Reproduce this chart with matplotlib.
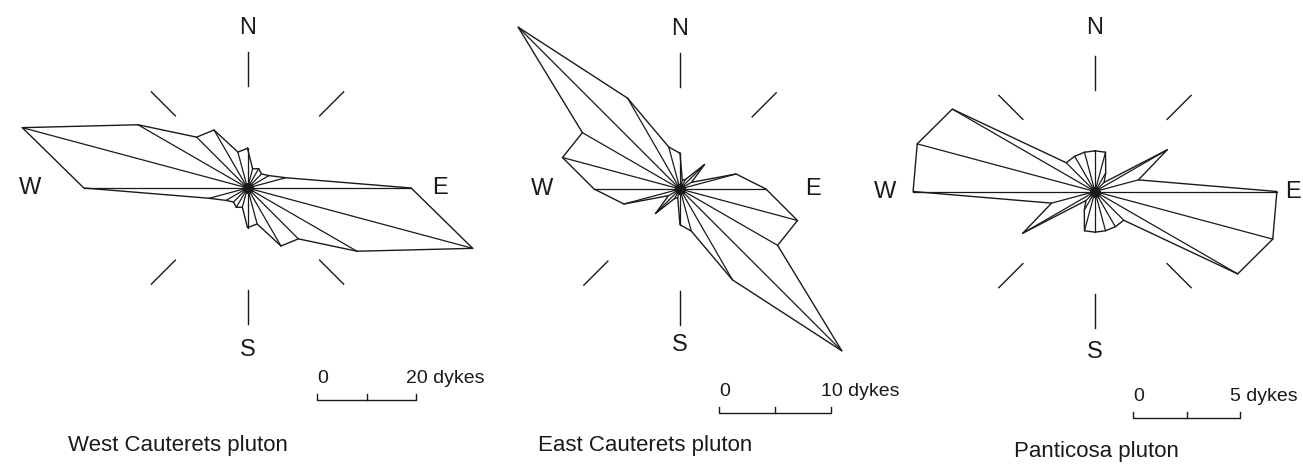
# dyke orientation rose diagrams, three plutons
import numpy as np
import matplotlib.pyplot as plt

plt.rcParams['font.family'] = ['Liberation Sans', 'DejaVu Sans']

# bin centres (degrees clockwise from N), strikes are axial so each bin is mirrored
directions = np.arange(0, 180, 15)

# number of dykes per bin
west_counts = [8, 4, 4.5, 4, 5, 8, 33, 47, 25.5, 14.5, 13.5, 7.5]
east_counts = [3.2, 0.8, 1.0, 3.1, 1.2, 5.2, 7.7, 10.9, 10.1, 20.5, 9.4, 3.9]
pant_counts = [1.9, 1.9, 1.0, 0.6, 3.9, 2.1, 8.5, 8.6, 7.7, 1.9, 1.9, 1.9]

titles = ['West Cauterets pluton', 'East Cauterets pluton', 'Panticosa pluton']
bar_dykes = [20, 10, 5]
bar_labels = ['20 dykes', '10 dykes', '5 dykes']

# layout in pixels: centre, pixels per dyke, label distances, scale bar, title
W, H = 1303, 470
layout = [
    dict(cx=247.5, cy=188, k=4.96, n=160, s=162, w=217, e=192,
         diag=[45, 135, 225, 315], bx=317, by=400, tx=178, ty=446),
    dict(cx=680, cy=189, k=11.16, n=160, s=156, w=138, e=133,
         diag=[45, 225], bx=719, by=413, tx=645, ty=446),
    dict(cx=1095, cy=191.5, k=21.4, n=163, s=160, w=210, e=198,
         diag=[45, 135, 225, 315], bx=1133, by=418, tx=1096, ty=451),
]
all_counts = [west_counts, east_counts, pant_counts]

fig = plt.figure(figsize=(W / 100, H / 100), dpi=100)
lc = '#1a1a1a'

for counts, lay, title, bd, bl in zip(all_counts, layout, titles, bar_dykes, bar_labels):
    k = lay['k']
    cx, cy = lay['cx'], lay['cy']
    hw = 250
    ax = fig.add_axes([(cx - hw) / W, 0, 2 * hw / W, 1])
    ax.set_xlim(-hw / k, hw / k)
    ax.set_ylim(-(H - cy) / k, cy / k)
    ax.axis('off')
    ax.patch.set_alpha(0)

    az = np.deg2rad(np.concatenate([directions, directions + 180]))
    r = np.concatenate([counts, counts])
    x = r * np.sin(az)
    y = r * np.cos(az)
    # outline
    ax.plot(np.append(x, x[0]), np.append(y, y[0]), color=lc, lw=1.0, clip_on=False)
    # spokes
    for xi, yi in zip(x, y):
        ax.plot([0, xi], [0, yi], color=lc, lw=0.9, clip_on=False)
    ax.plot(0, 0, 'o', ms=7, color=lc, clip_on=False)

    # compass marks
    r0, r1 = 102 / k, 136 / k
    for a in [0, 180] + lay['diag']:
        t = np.deg2rad(a)
        ax.plot([r0 * np.sin(t), r1 * np.sin(t)], [r0 * np.cos(t), r1 * np.cos(t)],
                color=lc, lw=1.0, clip_on=False)
    fs = 17
    ax.text(0, lay['n'] / k, 'N', ha='center', va='center', fontsize=fs, color=lc)
    ax.text(0, -lay['s'] / k, 'S', ha='center', va='center', fontsize=fs, color=lc)
    ax.text(-lay['w'] / k, 0, 'W', ha='center', va='center', fontsize=fs, color=lc)
    ax.text(lay['e'] / k, 0, 'E', ha='center', va='center', fontsize=fs, color=lc)

    # scale bar
    bx = (lay['bx'] - cx) / k
    by = -(lay['by'] - cy) / k
    tk = 6 / k
    ax.plot([bx, bx, bx + bd, bx + bd], [by + tk, by, by, by + tk], color=lc, lw=1.0, clip_on=False)
    ax.plot([bx + bd / 2, bx + bd / 2], [by, by + tk], color=lc, lw=1.0, clip_on=False)
    ax.text(bx, by + 13 / k, '0', ha='left', va='bottom', fontsize=14, color=lc)
    ax.text(bx + bd - 10 / k, by + 13 / k, bl, ha='left', va='bottom', fontsize=14, color=lc)

    fig.text(lay['tx'] / W, 1 - lay['ty'] / H, title, ha='center', va='center',
             fontsize=16, color=lc)

fig.savefig('out.png', dpi=100, facecolor='white')
